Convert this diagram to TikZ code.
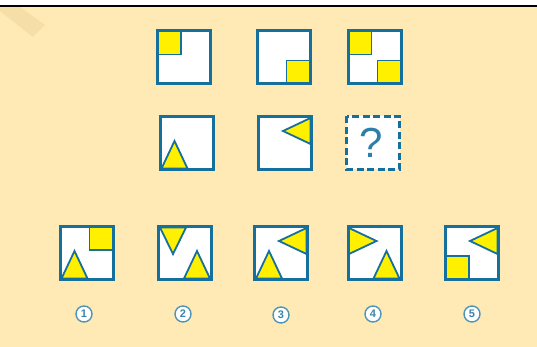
\documentclass[tikz,border=0pt]{standalone}
\usepackage{fontspec}
\setmainfont{Liberation Sans}
\definecolor{cream}{HTML}{FFEAB6}
\definecolor{stripe}{HTML}{F5DEA8}
\definecolor{ublue}{HTML}{16709E}
\definecolor{uyellow}{HTML}{FFF000}
\begin{document}
\begin{tikzpicture}[
  x=1pt,
  y=-1pt,
  panel/.style={fill=white,minimum size=53pt,inner sep=0pt,outer sep=0pt},
  frame/.style={draw=ublue,line width=3pt},
  dashframe/.style={draw=ublue,line width=3pt,dash pattern=on 7pt off 3.5pt},
  blk/.style={fill=uyellow,draw=ublue,line width=1.3pt},
  tri/.style={fill=uyellow,draw=ublue,line width=1.8pt},
  num/.style={circle,draw=ublue!75,line width=1.4pt,fill=white,minimum size=16pt,
    inner sep=0pt,text=ublue!85,font=\bfseries\fontsize{11}{11}\selectfont}
]
  \useasboundingbox (0,0) rectangle (537,347);
  \fill[cream] (0,0) rectangle (537,347);
  \fill[stripe] (0,7) -- (20,7) -- (45,25) -- (33,37) -- (0,11) -- cycle;
  \fill[white] (0,0) rectangle (537,5);
  \draw[black,line width=2pt] (0,6) -- (537,6);

  % question rows
  \node[panel] (p1) at (184,57.5) {};
  \node[panel] (p2) at (283.5,57.5) {};
  \node[panel] (p3) at (374.5,57.5) {};
  \node[panel] (p4) at (186.5,143) {};
  \node[panel] (p5) at (285,143) {};
  \node[panel] (p6) at (373,143) {};

  % answer row
  \node[panel] (a1) at (86.5,253) {};
  \node[panel] (a2) at (185,253) {};
  \node[panel] (a3) at (281,253) {};
  \node[panel] (a4) at (374.5,253) {};
  \node[panel] (a5) at (472,253) {};

  \begin{scope}[shift={(p1.center)}]
    \draw[blk] (-26,-26) rectangle (-3,-3);
  \end{scope}
  \begin{scope}[shift={(p2.center)}]
    \draw[blk] (3,3) rectangle (26,26);
  \end{scope}
  \begin{scope}[shift={(p3.center)}]
    \draw[blk] (-26,-26) rectangle (-3,-3);
    \draw[blk] (3,3) rectangle (26,26);
  \end{scope}
  \begin{scope}[shift={(p4.center)}]
    \draw[tri] (-25,25.5) -- (-12,-2) -- (1,25.5) -- cycle;
  \end{scope}
  \begin{scope}[shift={(p5.center)}]
    \draw[tri] (25.5,-25) -- (-2,-12) -- (25.5,1) -- cycle;
  \end{scope}
  \node[text=ublue!90,font=\fontsize{42}{42}\selectfont] (qm) at ([xshift=-2pt]p6.center) {?};

  \begin{scope}[shift={(a1.center)}]
    \draw[blk] (3,-26) rectangle (26,-3);
    \draw[tri] (-25,25.5) -- (-12,-2) -- (1,25.5) -- cycle;
  \end{scope}
  \begin{scope}[shift={(a2.center)}]
    \draw[tri] (-25,-25.5) -- (-12,1) -- (1,-25.5) -- cycle;
    \draw[tri] (-1,25.5) -- (12,-2) -- (25,25.5) -- cycle;
  \end{scope}
  \begin{scope}[shift={(a3.center)}]
    \draw[tri] (25.5,-25) -- (-2,-12) -- (25.5,1) -- cycle;
    \draw[tri] (-25,25.5) -- (-12,-2) -- (1,25.5) -- cycle;
  \end{scope}
  \begin{scope}[shift={(a4.center)}]
    \draw[tri] (-25.5,-25) -- (2,-12) -- (-25.5,1) -- cycle;
    \draw[tri] (-1,25.5) -- (12,-2) -- (25,25.5) -- cycle;
  \end{scope}
  \begin{scope}[shift={(a5.center)}]
    \draw[tri] (25.5,-25) -- (-2,-12) -- (25.5,1) -- cycle;
    \draw[blk] (-26,3) rectangle (-3,26);
  \end{scope}

  \foreach \p in {p1,p2,p3,p4,p5,a1,a2,a3,a4,a5} {
    \draw[frame] (\p.north west) rectangle (\p.south east);
  }
  \draw[dashframe] (p6.north west) rectangle (p6.south east);

  \node[num] (n1) at (84,314) {1};
  \node[num] (n2) at (183,314) {2};
  \node[num] (n3) at (281,315) {3};
  \node[num] (n4) at (373,314) {4};
  \node[num] (n5) at (472,314) {5};
\end{tikzpicture}
\end{document}
